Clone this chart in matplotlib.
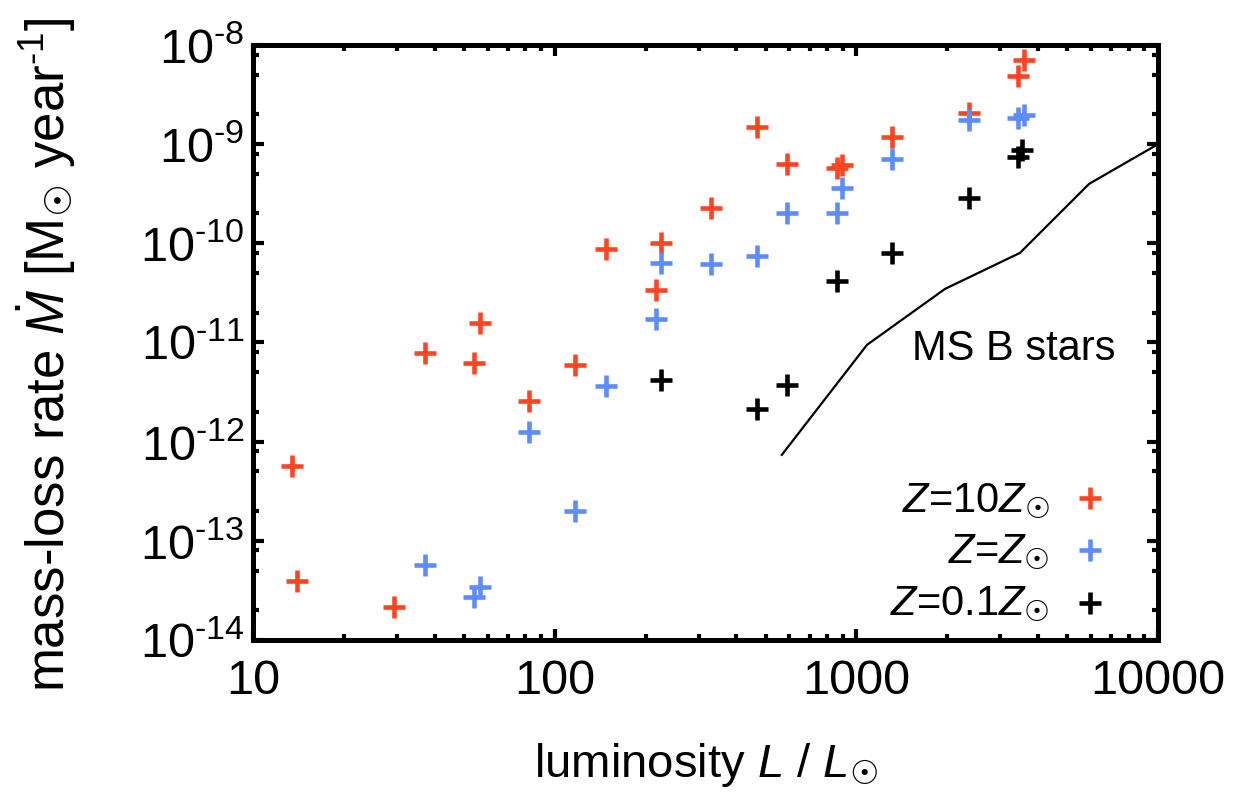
import numpy as np
import matplotlib
matplotlib.use('Agg')
import matplotlib.pyplot as plt
from matplotlib.ticker import FixedLocator, FixedFormatter, NullFormatter

plt.rcParams['font.family'] = ['Liberation Sans', 'DejaVu Sans']
plt.rcParams['mathtext.fontset'] = 'custom'
plt.rcParams['mathtext.rm'] = 'Liberation Sans'
plt.rcParams['mathtext.it'] = 'Liberation Sans:italic'
plt.rcParams['mathtext.sf'] = 'DejaVu Sans'

# Z = 10 Zsun
L_high = [13.5, 14.0, 29.3, 37.2, 54.0, 56.5, 82.2, 117, 148, 217, 225, 330,
          469, 589, 863, 895, 1313, 2361, 3436, 3597]
M_high = [5.7e-13, 3.9e-14, 2.16e-14, 7.85e-12, 6.2e-12, 1.58e-11, 2.58e-12,
          5.94e-12, 8.8e-11, 3.4e-11, 1.01e-10, 2.27e-10, 1.49e-9, 6.3e-10,
          5.75e-10, 6.2e-10, 1.18e-9, 2.06e-9, 4.87e-9, 7.06e-9]

# Z = Zsun
L_sol = [37.2, 54.0, 56.5, 82.2, 117, 148, 217, 225, 330, 469, 589, 863, 895,
         1313, 2361, 3436, 3597]
M_sol = [5.73e-14, 2.72e-14, 3.44e-14, 1.26e-12, 2.0e-13, 3.65e-12, 1.73e-11,
         6.3e-11, 6.2e-11, 7.46e-11, 2.02e-10, 2.02e-10, 3.6e-10, 7.1e-10,
         1.75e-9, 1.84e-9, 1.97e-9]

# Z = 0.1 Zsun
L_low = [225, 469, 589, 863, 1313, 2361, 3436, 3550]
M_low = [4.2e-12, 2.14e-12, 3.74e-12, 4.2e-11, 8.0e-11, 2.87e-10, 7.4e-10, 8.7e-10]

# main-sequence B stars
L_msb = [566, 1084, 1967, 3484, 5903, 10000]
M_msb = [7.36e-13, 9.46e-12, 3.47e-11, 8.0e-11, 3.97e-10, 1.0e-9]

x_ticks = [10, 100, 1000, 10000]
x_labels = ['10', '100', '1000', '10000']
y_exps = [-14, -13, -12, -11, -10, -9, -8]

red = '#ff4422'
blue = '#5c8cff'
black = '#000000'

SUN = '_{\\mathsf{\u2609}}'

fig = plt.figure(figsize=(12.4, 8.02), dpi=100)
ax = fig.add_axes([0.204, 0.202, 0.730, 0.742])

mk = dict(marker='+', linestyle='none', markersize=16, markeredgewidth=3.3)
ax.plot(L_high, M_high, color=red, **mk)
ax.plot(L_sol, M_sol, color=blue, **mk)
ax.plot(L_low, M_low, color=black, **mk)
ax.plot(L_msb, M_msb, color='black', lw=1.6)

ax.set_xscale('log')
ax.set_yscale('log')
ax.set_xlim(10, 10000)
ax.set_ylim(1e-14, 1e-8)

ax.xaxis.set_major_locator(FixedLocator(x_ticks))
ax.xaxis.set_major_formatter(FixedFormatter(x_labels))
xminor = [k * 10.0 ** e for e in range(1, 4) for k in range(2, 10)]
ax.xaxis.set_minor_locator(FixedLocator(xminor))
ax.xaxis.set_minor_formatter(NullFormatter())

ax.yaxis.set_major_locator(FixedLocator([10.0 ** e for e in y_exps]))
ax.yaxis.set_major_formatter(FixedFormatter(['10$^{\\text{%d}}$' % e for e in y_exps]))
yminor = [k * 10.0 ** e for e in range(-14, -8) for k in (2, 5, 8)]
ax.yaxis.set_minor_locator(FixedLocator(yminor))
ax.yaxis.set_minor_formatter(NullFormatter())

for s in ax.spines.values():
    s.set_linewidth(3.6)
ax.tick_params(which='both', direction='in', top=True, right=True, width=3)
ax.tick_params(which='major', length=8, labelsize=35)
ax.tick_params(axis='x', which='major', pad=14)
ax.tick_params(axis='y', which='major', pad=6)
ax.tick_params(which='minor', length=4)

ax.set_xlabel('luminosity $\\mathit{L}$ / $\\mathit{L}' + SUN + '$', fontsize=34)
ax.xaxis.set_label_coords(0.5, -0.17)
ax.set_ylabel('mass-loss rate $\\dot{\\mathit{M}}$ [M$' + SUN + '$ year$^{\\text{-1}}$]',
              fontsize=38)
ax.yaxis.set_label_coords(-0.193, 0.48)

ax.text(1528, 6.7e-12, 'MS B stars', fontsize=30, ha='left', va='baseline')

# key, right-aligned text like the original
key = [('$\\mathit{Z}$=10$\\mathit{Z}' + SUN + '$', red, 0.215, 0.239),
       ('$\\mathit{Z}$=$\\mathit{Z}' + SUN + '$', blue, 0.129, 0.151),
       ('$\\mathit{Z}$=0.1$\\mathit{Z}' + SUN + '$', black, 0.042, 0.062)]
for label, c, ty, my in key:
    ax.text(0.88, ty, label, fontsize=30, ha='right', va='baseline', transform=ax.transAxes)
    ax.plot([0.925], [my], color=c, transform=ax.transAxes, clip_on=False, **mk)

fig.savefig('out.png', dpi=100)
